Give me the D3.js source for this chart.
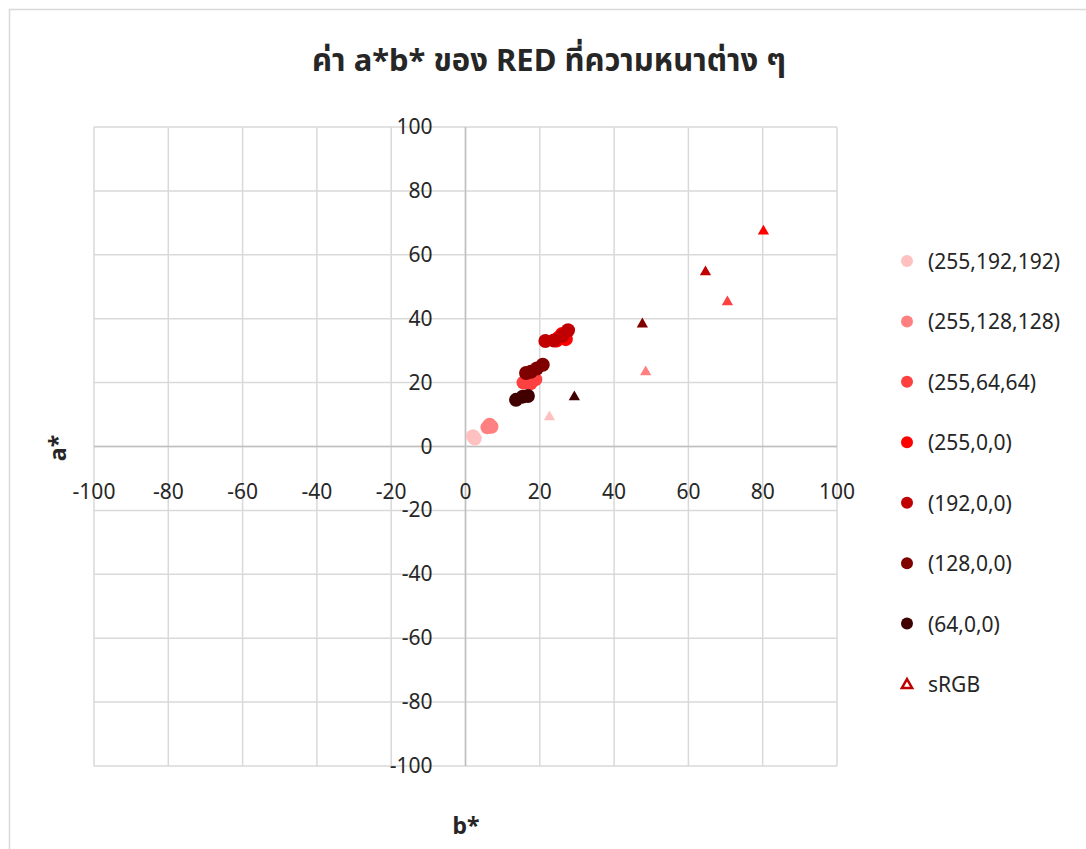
<!DOCTYPE html>
<html>
<head>
<meta charset="utf-8">
<script src="https://cdn.jsdelivr.net/npm/d3@7"></script>
<style>
body { margin: 0; background: #fff; }
text { font-family: "Noto Sans", "Noto Sans Thai", "DejaVu Sans", sans-serif; fill: #262626; }
</style>
</head>
<body>
<svg id="chart" width="1086" height="849"></svg>
<script>
var width = 1086;
var height = 849;
var margin = {top: 127, right: 249, bottom: 83, left: 94}; // plot area inside the chart frame

// series names + colours (legend order)
var seriesNames = ["(255,192,192)", "(255,128,128)", "(255,64,64)", "(255,0,0)", "(192,0,0)", "(128,0,0)", "(64,0,0)"];
var seriesColors = ["#FFC0C0", "#FF8080", "#FF4040", "#FF0000", "#C00000", "#800000", "#400000"];

// measured points [b*, a*] per thickness series
var pts255_192 = [[2.5, 2.5], [2.0, 3.2]];
var pts255_128 = [[5.9, 6.0], [6.5, 6.8], [7.0, 6.2]];
var pts255_64 = [[15.6, 20.0], [17.5, 19.8], [18.8, 21.0], [16.8, 20.6]];
var pts255_0 = [[25.0, 34.0], [27.0, 33.6], [26.0, 35.2], [24.5, 33.2]];
var pts192_0 = [[21.5, 33.0], [23.8, 33.2], [26.0, 34.6], [27.6, 36.4]];
var pts128_0 = [[16.3, 23.0], [17.6, 23.4], [19.2, 24.4], [20.8, 25.6]];
var pts64_0 = [[13.6, 14.6], [15.4, 15.6], [16.8, 15.8]];
var seriesPoints = [pts255_192, pts255_128, pts255_64, pts255_0, pts192_0, pts128_0, pts64_0];

// sRGB reference values [b*, a*], one per colour
var srgbPoints = [[22.6, 9.2], [48.5, 23.3], [70.5, 45.2], [80.2, 67.4], [64.6, 54.6], [47.6, 38.3], [29.3, 15.5]];

var ticks = [-100, -80, -60, -40, -20, 0, 20, 40, 60, 80, 100];

var svg = d3.select("#chart");

// chart frame
svg.append("rect")
    .attr("x", 9.5).attr("y", 9.5)
    .attr("width", width + 20).attr("height", height + 20)
    .attr("fill", "#fff")
    .attr("stroke", "#d9d9d9")
    .attr("stroke-width", 1.5);

var w = width - margin.left - margin.right;
var h = height - margin.top - margin.bottom;

var x = d3.scaleLinear().domain([-100, 100]).range([margin.left, margin.left + w]);
var y = d3.scaleLinear().domain([-100, 100]).range([margin.top + h, margin.top]);

// gridlines
var grid = svg.append("g");
grid.selectAll(".vg").data(ticks).enter().append("line")
    .attr("x1", function(d) { return x(d); }).attr("x2", function(d) { return x(d); })
    .attr("y1", y(-100)).attr("y2", y(100))
    .attr("stroke", "#d9d9d9").attr("stroke-width", 1.5);
grid.selectAll(".hg").data(ticks).enter().append("line")
    .attr("y1", function(d) { return y(d); }).attr("y2", function(d) { return y(d); })
    .attr("x1", x(-100)).attr("x2", x(100))
    .attr("stroke", "#d9d9d9").attr("stroke-width", 1.5);

// axis lines through zero
svg.append("line")
    .attr("x1", x(0)).attr("x2", x(0)).attr("y1", y(-100)).attr("y2", y(100))
    .attr("stroke", "#bfbfbf").attr("stroke-width", 1.5);
svg.append("line")
    .attr("x1", x(-100)).attr("x2", x(100)).attr("y1", y(0)).attr("y2", y(0))
    .attr("stroke", "#bfbfbf").attr("stroke-width", 1.5);

// tick labels
svg.selectAll(".xt").data(ticks).enter().append("text")
    .attr("x", function(d) { return x(d); })
    .attr("y", y(0) + 52)
    .attr("text-anchor", "middle")
    .style("font-size", "21px")
    .text(function(d) { return d; });

svg.selectAll(".yt").data(ticks).enter().append("text")
    .attr("x", x(0) - 33)
    .attr("y", function(d) { return y(d) + 7; })
    .attr("text-anchor", "end")
    .style("font-size", "21px")
    .text(function(d) { return d; });

// title + axis titles
svg.append("text")
    .attr("x", 549).attr("y", 71)
    .attr("text-anchor", "middle")
    .style("font-size", "31px").style("font-weight", "bold")
    .text("ค่า a*b* ของ RED ที่ความหนาต่าง ๆ");

svg.append("text")
    .attr("x", 466).attr("y", 834)
    .attr("text-anchor", "middle")
    .style("font-size", "23px").style("font-weight", "bold")
    .text("b*");

svg.append("text")
    .attr("transform", "translate(66,448) rotate(-90)")
    .attr("text-anchor", "middle")
    .style("font-size", "23px").style("font-weight", "bold")
    .text("a*");

// sRGB triangles
var tri = d3.symbol().type(d3.symbolTriangle).size(55);
svg.append("g").selectAll("path").data(srgbPoints).enter().append("path")
    .attr("d", tri)
    .attr("transform", function(d) { return "translate(" + x(d[0]) + "," + y(d[1]) + ")"; })
    .attr("fill", function(d, i) { return seriesColors[i]; });

// measured circles, drawn series by series
seriesPoints.forEach(function(pts, i) {
    svg.append("g").selectAll("circle").data(pts).enter().append("circle")
        .attr("cx", function(d) { return x(d[0]); })
        .attr("cy", function(d) { return y(d[1]); })
        .attr("r", 7)
        .attr("fill", seriesColors[i]);
});

// legend
var legY = d3.scalePoint().domain(seriesNames.concat(["sRGB"])).range([261, 684]);
var leg = svg.append("g");
seriesNames.forEach(function(name, i) {
    leg.append("circle")
        .attr("cx", 907).attr("cy", legY(name)).attr("r", 6)
        .attr("fill", seriesColors[i]);
    leg.append("text")
        .attr("x", 928).attr("y", legY(name) + 8)
        .style("font-size", "21px")
        .text(name);
});
leg.append("path")
    .attr("d", d3.symbol().type(d3.symbolTriangle).size(45))
    .attr("transform", "translate(907," + (legY("sRGB") + 1) + ")")
    .attr("fill", "#fff").attr("stroke", "#C00000").attr("stroke-width", 2.5);
leg.append("text")
    .attr("x", 928).attr("y", legY("sRGB") + 8)
    .style("font-size", "21px")
    .text("sRGB");
</script>
</body>
</html>
